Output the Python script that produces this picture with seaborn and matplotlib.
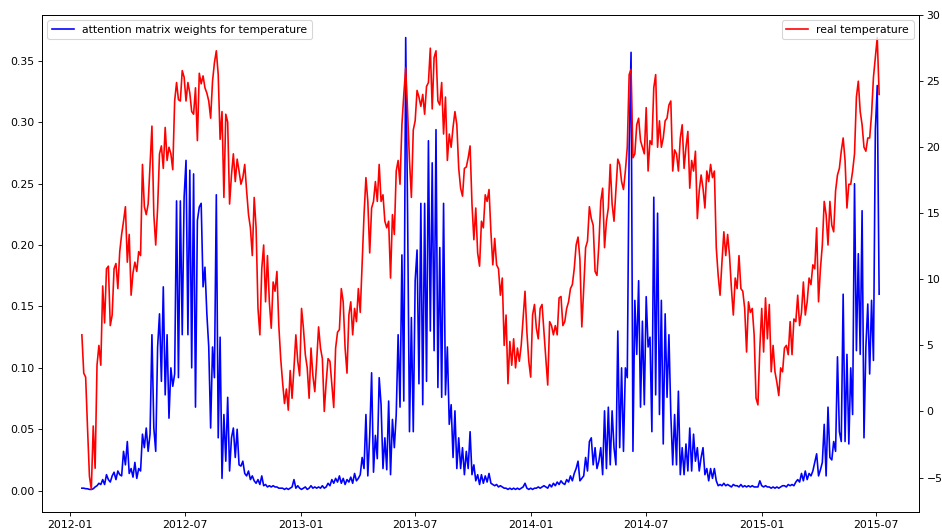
import matplotlib
matplotlib.use("Agg")
import matplotlib.pyplot as plt
import matplotlib.dates as mdates
import pandas as pd
import seaborn as sns

# Daily-sampled series (every 3rd day) starting 2012-01-20
start_date = "2012-01-20"
step = "3D"

temperature = [
    5.8, 2.9, 2.6, -1.3, -4.9, -5.9, -1.1, -4.3, 3.5, 5.0,
    3.5, 9.5, 6.7, 10.8, 11.0, 6.5, 7.3, 10.8, 11.2, 9.3,
    12.1, 13.4, 14.4, 15.5, 11.3, 13.4, 8.8, 10.5, 11.3, 10.6,
    12.1, 11.8, 18.7, 15.5, 14.9, 15.7, 18.7, 21.6, 14.9, 12.6,
    15.4, 19.5, 20.1, 18.4, 21.5, 19.0, 20.0, 19.5, 18.3, 23.5,
    24.9, 23.6, 23.5, 25.8, 25.3, 23.5, 24.9, 24.1, 22.7, 22.5,
    24.5, 20.5, 25.6, 24.8, 25.4, 24.5, 24.1, 23.5, 22.2, 25.0,
    26.4, 27.3, 25.5, 20.6, 22.7, 16.2, 22.5, 21.9, 15.7, 17.9,
    19.5, 17.4, 19.1, 18.2, 17.2, 17.7, 18.7, 16.7, 14.9, 13.9,
    11.8, 16.2, 13.9, 7.8, 5.8, 10.8, 12.6, 8.3, 11.8, 8.3,
    6.3, 9.8, 9.1, 10.6, 6.5, 4.0, 2.2, 0.6, 1.7, 0.1,
    3.1, 1.0, 3.3, 5.8, 3.8, 2.7, 7.8, 6.3, 4.3, 3.3,
    1.0, 4.8, 2.7, 1.5, 3.8, 6.4, 4.8, 4.0, 0.0, 2.2,
    4.0, 3.8, 2.0, 0.3, 4.8, 6.0, 6.2, 9.3, 8.3, 4.8,
    2.9, 7.3, 8.3, 5.8, 7.8, 6.8, 9.3, 7.5, 11.3, 14.9,
    17.7, 15.9, 12.0, 15.4, 15.9, 17.4, 15.9, 18.7, 15.9, 16.4,
    14.4, 13.9, 14.4, 10.1, 14.9, 13.4, 18.2, 19.0, 17.2, 21.7,
    24.0, 26.0, 22.7, 19.0, 16.2, 21.3, 22.0, 24.3, 23.8, 23.1,
    24.0, 22.5, 24.6, 24.9, 27.5, 22.9, 26.8, 27.3, 23.5, 23.2,
    24.9, 21.0, 23.8, 19.0, 21.0, 20.0, 21.5, 22.7, 21.7, 18.4,
    16.9, 16.3, 18.4, 18.5, 19.2, 20.1, 15.7, 13.0, 15.4, 12.0,
    11.0, 14.4, 13.9, 16.4, 15.9, 16.8, 13.6, 11.1, 13.1, 11.1,
    10.8, 8.8, 10.1, 5.0, 7.3, 2.1, 5.3, 3.5, 5.5, 3.3,
    4.8, 3.8, 5.0, 7.0, 9.1, 6.0, 3.8, 2.6, 7.3, 8.1,
    6.3, 5.5, 7.8, 8.1, 6.0, 4.0, 2.0, 6.8, 6.5, 5.8,
    6.5, 5.8, 8.6, 8.7, 6.5, 6.8, 7.8, 8.3, 9.3, 9.6,
    10.8, 12.6, 13.2, 11.5, 6.4, 9.3, 12.4, 12.9, 15.5, 14.6,
    14.1, 10.6, 10.3, 12.6, 15.9, 16.9, 12.4, 14.4, 15.4, 18.7,
    15.7, 14.4, 16.7, 19.1, 18.7, 17.4, 16.8, 18.2, 20.0, 25.5,
    25.9, 19.2, 19.5, 21.7, 22.2, 20.5, 20.0, 19.5, 23.0, 18.2,
    20.5, 20.2, 24.5, 25.5, 20.0, 22.0, 20.0, 20.7, 22.0, 22.2,
    23.2, 23.5, 18.2, 19.8, 19.5, 18.2, 20.7, 21.7, 18.4, 20.0,
    21.2, 16.9, 19.0, 18.2, 19.7, 14.6, 16.7, 17.9, 16.9, 15.4,
    18.2, 17.4, 18.7, 17.7, 18.2, 12.4, 10.3, 8.8, 11.3, 13.6,
    11.8, 13.4, 11.8, 9.3, 7.3, 10.1, 9.3, 11.8, 9.3, 9.1,
    7.8, 4.5, 8.3, 7.5, 7.8, 5.8, 1.0, 0.5, 4.8, 7.8,
    4.5, 8.6, 5.5, 8.1, 3.0, 5.0, 3.0, 2.2, 1.2, 3.3,
    3.0, 4.8, 5.0, 4.3, 6.8, 4.3, 7.0, 6.8, 8.8, 6.5,
    7.5, 9.8, 7.3, 8.3, 10.1, 9.6, 11.1, 10.8, 13.9, 8.3,
    10.8, 12.6, 15.9, 14.9, 12.6, 15.9, 14.1, 13.6, 16.7, 17.9,
    18.4, 19.7, 20.7, 19.0, 15.4, 17.2, 17.2, 18.2, 19.5, 23.8,
    25.0, 22.7, 21.7, 20.0, 19.7, 20.7, 20.7, 22.5, 25.3, 26.8,
    28.3, 24.0,
]

attention = [
    0.002, 0.002, 0.0016, 0.0015, 0.001, 0.001, 0.0015, 0.003, 0.004, 0.006,
    0.005, 0.009, 0.005, 0.013, 0.009, 0.007, 0.012, 0.015, 0.009, 0.016,
    0.013, 0.012, 0.032, 0.021, 0.040, 0.014, 0.018, 0.011, 0.023, 0.010,
    0.018, 0.016, 0.046, 0.035, 0.051, 0.032, 0.046, 0.127, 0.051, 0.032,
    0.117, 0.144, 0.089, 0.166, 0.078, 0.127, 0.059, 0.100, 0.085, 0.095,
    0.236, 0.092, 0.236, 0.127, 0.239, 0.269, 0.127, 0.261, 0.100, 0.258,
    0.068, 0.220, 0.231, 0.234, 0.166, 0.182, 0.144, 0.117, 0.051, 0.117,
    0.092, 0.241, 0.043, 0.125, 0.010, 0.062, 0.024, 0.076, 0.016, 0.043,
    0.051, 0.027, 0.050, 0.021, 0.020, 0.024, 0.014, 0.012, 0.016, 0.009,
    0.012, 0.008, 0.006, 0.009, 0.005, 0.012, 0.004, 0.005, 0.003, 0.004,
    0.003, 0.004, 0.003, 0.003, 0.002, 0.002, 0.002, 0.001, 0.002, 0.001,
    0.002, 0.003, 0.009, 0.002, 0.004, 0.002, 0.001, 0.002, 0.003, 0.001,
    0.002, 0.004, 0.002, 0.003, 0.002, 0.003, 0.002, 0.004, 0.002, 0.003,
    0.006, 0.004, 0.009, 0.006, 0.010, 0.007, 0.012, 0.006, 0.010, 0.005,
    0.009, 0.007, 0.011, 0.006, 0.014, 0.008, 0.010, 0.013, 0.027, 0.018,
    0.062, 0.012, 0.045, 0.096, 0.015, 0.045, 0.026, 0.092, 0.070, 0.018,
    0.043, 0.017, 0.073, 0.013, 0.058, 0.035, 0.062, 0.127, 0.068, 0.192,
    0.073, 0.369, 0.226, 0.048, 0.141, 0.048, 0.171, 0.196, 0.087, 0.234,
    0.070, 0.234, 0.089, 0.285, 0.130, 0.267, 0.114, 0.294, 0.084, 0.198,
    0.076, 0.234, 0.078, 0.117, 0.054, 0.070, 0.027, 0.065, 0.018, 0.043,
    0.018, 0.035, 0.013, 0.032, 0.018, 0.048, 0.013, 0.021, 0.008, 0.013,
    0.005, 0.013, 0.006, 0.012, 0.007, 0.014, 0.006, 0.005, 0.004, 0.005,
    0.003, 0.004, 0.003, 0.002, 0.002, 0.001, 0.002, 0.001, 0.002, 0.001,
    0.002, 0.001, 0.002, 0.003, 0.006, 0.002, 0.001, 0.002, 0.001, 0.002,
    0.002, 0.003, 0.002, 0.003, 0.004, 0.003, 0.002, 0.005, 0.003, 0.006,
    0.004, 0.007, 0.005, 0.008, 0.006, 0.005, 0.009, 0.007, 0.012, 0.008,
    0.014, 0.018, 0.024, 0.008, 0.010, 0.012, 0.027, 0.016, 0.040, 0.043,
    0.021, 0.035, 0.018, 0.024, 0.035, 0.013, 0.065, 0.018, 0.068, 0.021,
    0.065, 0.035, 0.021, 0.130, 0.035, 0.100, 0.032, 0.100, 0.092, 0.280,
    0.357, 0.032, 0.155, 0.111, 0.171, 0.068, 0.138, 0.070, 0.158, 0.117,
    0.125, 0.048, 0.239, 0.078, 0.226, 0.062, 0.155, 0.038, 0.144, 0.076,
    0.127, 0.062, 0.021, 0.062, 0.021, 0.081, 0.013, 0.035, 0.013, 0.038,
    0.016, 0.051, 0.016, 0.046, 0.024, 0.035, 0.016, 0.027, 0.035, 0.013,
    0.018, 0.008, 0.018, 0.010, 0.018, 0.008, 0.004, 0.005, 0.004, 0.006,
    0.004, 0.005, 0.004, 0.003, 0.005, 0.004, 0.004, 0.003, 0.005, 0.003,
    0.004, 0.003, 0.004, 0.003, 0.004, 0.003, 0.003, 0.003, 0.008, 0.004,
    0.003, 0.004, 0.003, 0.003, 0.002, 0.003, 0.002, 0.003, 0.002, 0.003,
    0.004, 0.004, 0.003, 0.005, 0.004, 0.005, 0.004, 0.007, 0.009, 0.007,
    0.014, 0.008, 0.016, 0.009, 0.014, 0.012, 0.016, 0.023, 0.030, 0.012,
    0.017, 0.023, 0.054, 0.012, 0.068, 0.027, 0.025, 0.040, 0.032, 0.109,
    0.048, 0.040, 0.160, 0.040, 0.111, 0.038, 0.100, 0.062, 0.250, 0.114,
    0.193, 0.111, 0.228, 0.043, 0.117, 0.152, 0.095, 0.155, 0.106, 0.294,
    0.330, 0.160,
]

dates = pd.date_range(start_date, periods=len(temperature), freq=step)

dpi = 78.5
fig = plt.figure(figsize=(942 / dpi, 532 / dpi), dpi=dpi)
ax = fig.add_axes([42 / 942, 20 / 532, 877 / 942, 497 / 532])

sns.lineplot(x=dates, y=attention, ax=ax, color="blue", linewidth=1.5,
             label="attention matrix weights for temperature")
ax2 = ax.twinx()
sns.lineplot(x=dates, y=temperature, ax=ax2, color="red", linewidth=1.5,
             label="real temperature")

ax.legend(loc="upper left")
ax2.legend(loc="upper right")

ax.xaxis.set_major_locator(mdates.MonthLocator(bymonth=[1, 7]))
ax.xaxis.set_major_formatter(mdates.DateFormatter("%Y-%m"))
ax.set_xlabel("")
ax.set_ylabel("")
ax2.set_ylabel("")

fig.savefig("out.png", dpi=dpi)
